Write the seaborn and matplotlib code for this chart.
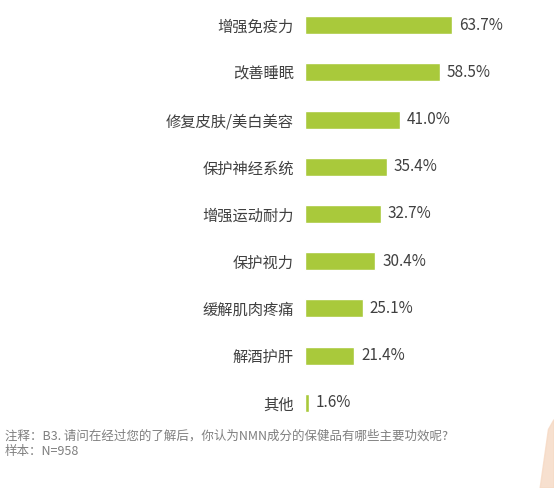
import matplotlib
matplotlib.use('Agg')
import matplotlib.pyplot as plt
import seaborn as sns
import pandas as pd

categories = ['增强免疫力', '改善睡眠', '修复皮肤/美白美容', '保护神经系统', '增强运动耐力',
              '保护视力', '缓解肌肉疼痛', '解酒护肝', '其他']
values = [63.7, 58.5, 41.0, 35.4, 32.7, 30.4, 25.1, 21.4, 1.6]

sns.set_style('white')
plt.rcParams['font.family'] = ['Noto Sans CJK SC', 'DejaVu Sans']

df = pd.DataFrame({'item': categories, 'pct': values})

fig = plt.figure(figsize=(5.54, 4.88), dpi=100)
ax = fig.add_axes([305 / 554, 0.126, 231 / 554, 0.871])
sns.barplot(data=df, y='item', x='pct', color='#a9c93b', width=0.38,
            saturation=1, ax=ax)
ax.set_xlim(0, 100)
ax.set_ylim(8.5, -0.5)
ax.set_xlabel('')
ax.set_ylabel('')
ax.set_xticks([])
for s in ax.spines.values():
    s.set_visible(False)
ax.tick_params(axis='y', length=0, pad=8, labelsize=11, labelcolor='#404040')
for i, v in enumerate(values):
    ax.text(v + 3, i, f'{v:.1f}%', va='center', ha='left', fontsize=11, color='#404040')

fig.text(5 / 554, 1 - 436 / 488, '注释：B3. 请问在经过您的了解后，你认为NMN成分的保健品有哪些主要功效呢?',
         fontsize=9, color='#7f7f7f', va='center')
fig.text(5 / 554, 1 - 452 / 488, '样本：N=958', fontsize=9, color='#7f7f7f', va='center')

# corner decoration
fig.patches.append(plt.Polygon([[0.975, 0.0], [1.0, 0.0], [1.0, 0.14], [0.99, 0.12]],
                               closed=True, transform=fig.transFigure,
                               color='#f6d9c4', alpha=0.8))

fig.savefig('out.png', dpi=100)
